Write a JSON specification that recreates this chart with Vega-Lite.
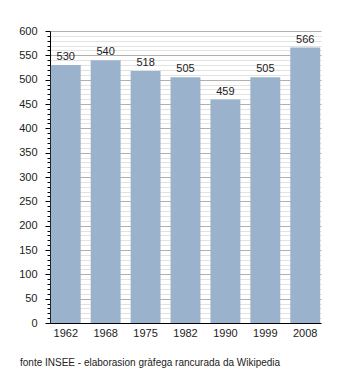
{
  "$schema": "https://vega.github.io/schema/vega-lite/v6.json",
  "autosize": "none",
  "width": 271,
  "height": 292,
  "padding": {"left": 50, "top": 31, "right": 29, "bottom": 50},
  "background": "white",
  "data": {"values": [
    {"anno": "1962", "abitanti": 530},
    {"anno": "1968", "abitanti": 540},
    {"anno": "1975", "abitanti": 518},
    {"anno": "1982", "abitanti": 505},
    {"anno": "1990", "abitanti": 459},
    {"anno": "1999", "abitanti": 505},
    {"anno": "2008", "abitanti": 566}
  ]},
  "title": {
    "text": "fonte INSEE - elaborasion gràfega rancurada da Wikipedia",
    "orient": "bottom",
    "anchor": "start",
    "frame": "group",
    "dx": -30,
    "offset": 20,
    "font": "Liberation Sans",
    "fontSize": 10,
    "fontWeight": "normal",
    "color": "#222"
  },
  "config": {
    "view": {"stroke": null},
    "axis": {"labelFont": "Liberation Sans", "labelFontSize": 11, "labelColor": "#222"}
  },
  "encoding": {
    "x": {
      "field": "anno", "type": "ordinal", "title": null,
      "scale": {"paddingInner": 0.25, "paddingOuter": 0.02},
      "axis": {"labelAngle": 0, "ticks": false, "domainColor": "#000", "labelPadding": 4, "grid": false}
    },
    "y": {
      "field": "abitanti", "type": "quantitative", "title": null,
      "scale": {"domain": [0, 600], "nice": false},
      "axis": {
        "values": [0,10,20,30,40,50,60,70,80,90,100,110,120,130,140,150,160,170,180,190,200,210,220,230,240,250,260,270,280,290,300,310,320,330,340,350,360,370,380,390,400,410,420,430,440,450,460,470,480,490,500,510,520,530,540,550,560,570,580,590,600],
        "labelExpr": "datum.value % 50 === 0 ? datum.label : ''",
        "grid": true,
        "gridColor": {"condition": {"test": "datum.value % 50 === 0", "value": "#b0b0b0"}, "value": "#e2e2e2"},
        "gridWidth": 1,
        "tickColor": "#000",
        "tickSize": {"condition": {"test": "datum.value % 50 === 0", "value": 5}, "value": 3},
        "labelPadding": 8,
        "domainColor": "#000",
        "labelBound": false,
        "labelOverlap": false
      }
    }
  },
  "layer": [
    {"mark": {"type": "bar", "color": "#9ab2cb"}},
    {"mark": {"type": "text", "baseline": "bottom", "dy": -3, "font": "Liberation Sans", "fontSize": 11, "color": "#222"},
     "encoding": {"text": {"field": "abitanti", "type": "quantitative"}}}
  ]
}
